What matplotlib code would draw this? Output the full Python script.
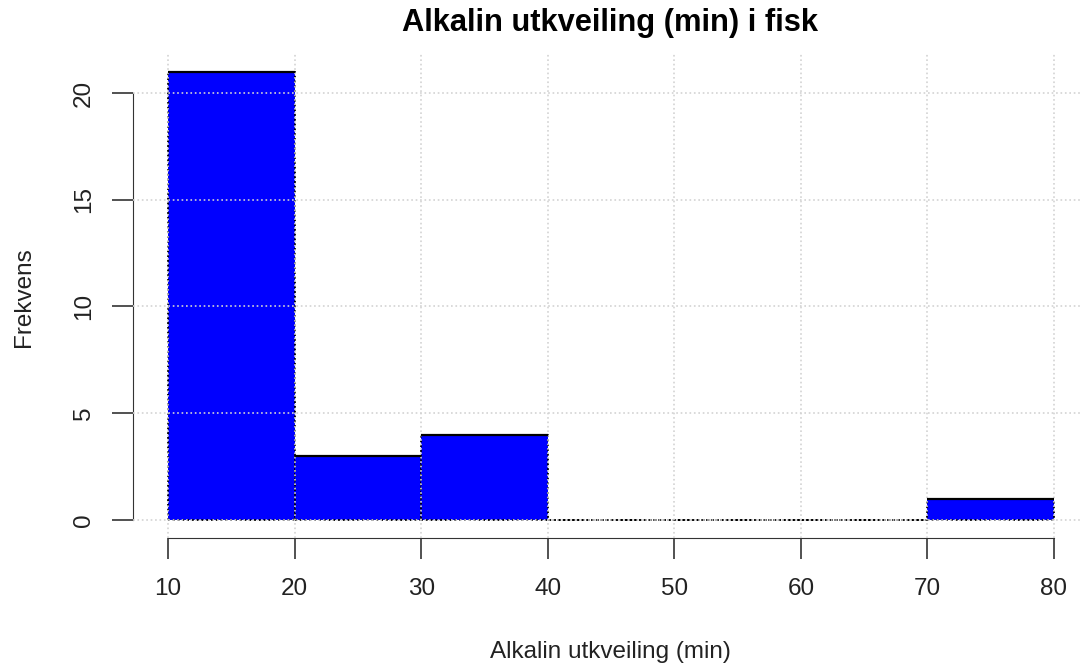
import matplotlib
matplotlib.use("Agg")
import matplotlib.pyplot as plt
import numpy as np

plt.rcParams['font.family'] = ['Liberation Sans', 'DejaVu Sans']

bin_edges = [10, 20, 30, 40, 50, 60, 70, 80]
counts = [21, 3, 4, 0, 0, 0, 1]
x_ticks = [10, 20, 30, 40, 50, 60, 70, 80]
y_ticks = [0, 5, 10, 15, 20]
title = "Alkalin utkveiling (min) i fisk"
xlabel = "Alkalin utkveiling (min)"
ylabel = "Frekvens"

W, H = 1082, 668
fig = plt.figure(figsize=(W / 100, H / 100), dpi=100)
left, right, top, bottom = 132.6, 1089.4, 53.7, 537.9
ax = fig.add_axes([left / W, 1 - bottom / H, (right - left) / W, (bottom - top) / H])

edges = np.array(bin_edges)
widths = np.diff(edges)
cnt = np.array(counts)
ax.bar(edges[:-1], cnt, width=widths, align='edge', color='#0000FF',
       edgecolor='black', linestyle=':', linewidth=1.3, zorder=2)
nz = cnt > 0
ax.hlines(cnt[nz], edges[:-1][nz], edges[1:][nz], colors='black', linewidth=1.6, zorder=3)

ax.set_xlim(7.2, 82.8)
ax.set_ylim(-0.84, 21.84)
ax.set_xticks(x_ticks)
ax.set_yticks(y_ticks)
ax.grid(True, color='lightgray', linestyle=':', linewidth=1.2, zorder=4)
ax.set_axisbelow(False)
for gl in ax.get_xgridlines() + ax.get_ygridlines():
    gl.set_zorder(4)

for s in ['top', 'right']:
    ax.spines[s].set_visible(False)
ax.spines['bottom'].set_bounds(10, 80)
ax.spines['left'].set_bounds(0, 20)
ax.spines['bottom'].set_color('#333333')
ax.spines['left'].set_color('#333333')
ax.tick_params(axis='both', length=15, width=1.2, color='#333333', labelsize=17.5,
               labelcolor='#222222')
ax.tick_params(axis='x', pad=14)
ax.tick_params(axis='y', pad=12)
for lbl in ax.get_yticklabels():
    lbl.set_rotation(90)
    lbl.set_va('center')

fig.text(610 / W, 1 - 23 / H, title, fontsize=22.2, fontweight='bold',
         ha='center', va='center', color='black')
fig.text(610 / W, 1 - 652 / H, xlabel, fontsize=17.5, ha='center', va='center', color='#222222')
fig.text(24 / W, 1 - 297 / H, ylabel, fontsize=17.5, ha='center', va='center',
         rotation=90, color='#222222')

fig.savefig("out.png", dpi=100)
